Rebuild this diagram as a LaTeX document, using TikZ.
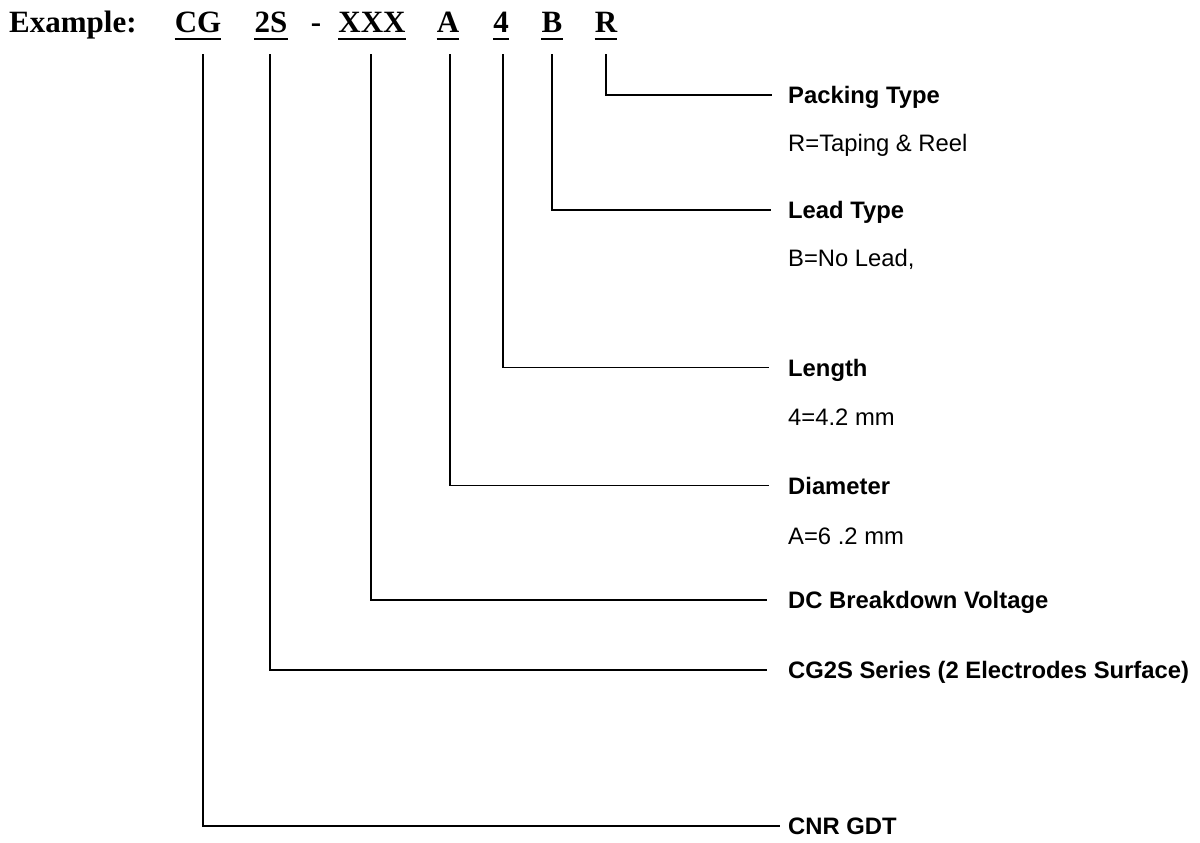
\documentclass[tikz,border=0pt]{standalone}
\usepackage{fontspec}
\setmainfont{Liberation Serif}
\setsansfont{Liberation Sans}
\begin{document}
\begin{tikzpicture}[x=1pt,y=-1pt,
  code/.style={anchor=base,inner sep=0pt,font=\fontsize{31}{35}\selectfont\rmfamily\bfseries},
  title/.style={anchor=base west,inner sep=0pt,font=\fontsize{23.8}{28}\selectfont\sffamily\bfseries},
  value/.style={anchor=base west,inner sep=0pt,font=\fontsize{23.8}{28}\selectfont\sffamily},
  conn/.style={line width=1.8pt,line cap=rect},
  uline/.style={line width=2.5pt}]
\useasboundingbox (0,0) rectangle (1200,843);
\fill[white] (0,0) rectangle (1200,843);
% header
\node[code,anchor=base west] (ex) at (9,33) {Example:};
\node[code] (cg) at (198,33) {CG};
\node[code] (s2) at (271,33) {2S};
\node[code] (dash) at (316,33) {-};
\node[code] (xxx) at (372,33) {XXX};
\node[code] (a) at (448,33) {A};
\node[code] (four) at (501,33) {4};
\node[code] (b) at (552,33) {B};
\node[code] (r) at (606,33) {R};
\foreach \n in {cg,s2,xxx,a,four,b,r}{
  \draw[uline] ([yshift=-6pt]\n.base west) -- ([yshift=-6pt]\n.base east);
}
% labels
\node[title] (packing) at (788,103.5) {Packing Type};
\node[value] (packingv) at (788,151.5) {R=Taping \& Reel};
\node[title] (lead) at (788,218.5) {Lead Type};
\node[value] (leadv) at (788,266.5) {B=No Lead,};
\node[title] (length) at (788,376) {Length};
\node[value] (lengthv) at (788,425) {4=4.2 mm};
\node[title] (diam) at (788,494) {Diameter};
\node[value] (diamv) at (788,544) {A=6 .2 mm};
\node[title] (dc) at (788,608.5) {DC Breakdown Voltage};
\node[title] (series) at (788,678.5) {CG2S Series (2 Electrodes Surface)};
\node[title] (cnr) at (788,834.5) {CNR GDT};
% connector tops
\coordinate (rtop) at (606,55);
\coordinate (btop) at (552,55);
\coordinate (ftop) at (503,55);
\coordinate (atop) at (450,55);
\coordinate (xtop) at (371,55);
\coordinate (stop) at (270,55);
\coordinate (ctop) at (203,55);
\draw[conn] (rtop) |- ([xshift=-17pt,yshift=8.5pt]packing.base west);
\draw[conn] (btop) |- ([xshift=-18pt,yshift=8.5pt]lead.base west);
\draw[conn] (ftop) |- ([xshift=-20pt,yshift=8.5pt]length.base west);
\draw[conn] (atop) |- ([xshift=-20pt,yshift=8.5pt]diam.base west);
\draw[conn] (xtop) |- ([xshift=-22pt,yshift=8.5pt]dc.base west);
\draw[conn] (stop) |- ([xshift=-22pt,yshift=8.5pt]series.base west);
\draw[conn] (ctop) |- ([xshift=-9pt,yshift=8.5pt]cnr.base west);
\end{tikzpicture}
\end{document}
